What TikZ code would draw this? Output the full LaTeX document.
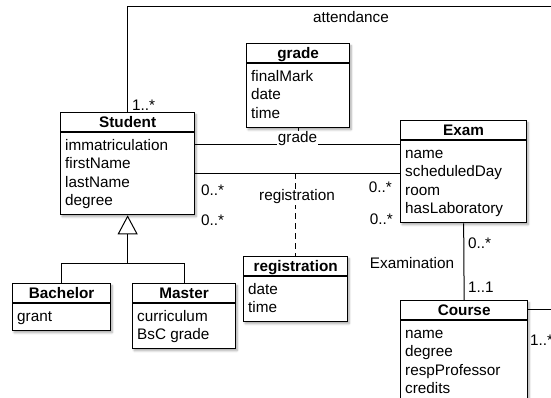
\documentclass[tikz,border=0pt]{standalone}
\usepackage{fontspec}
\setmainfont{Liberation Sans}
\usetikzlibrary{arrows.meta,shadows.blur}

\newcommand\umlfont{\fontsize{15.3}{18}\selectfont}

\tikzset{
  classbox/.style={draw, line width=1.3pt, fill=white,
    blur shadow={shadow xshift=1.5pt, shadow yshift=-2pt, shadow blur steps=5, shadow opacity=35}},
  classline/.style={line width=1.3pt},
  classtitle/.style={font=\umlfont\bfseries, inner sep=0pt},
  attr/.style={font=\umlfont, inner sep=0pt},
  assoc/.style={line width=1pt},
  assocclass/.style={line width=1pt, dash pattern=on 6pt off 4pt},
  lbl/.style={font=\umlfont, inner sep=1pt},
  genarrow/.style={line width=1pt, -{Triangle[open, length=19pt, width=20pt, fill=white]}},
}

% \umlclass{id}{left}{top}{width}{height}{title}{attribute list}
\newcommand\umlclass[7]{%
  \node[classbox, minimum width=#4pt, minimum height=#5pt, inner sep=0pt,
        anchor=north west] (#1) at (#2,#3) {};
  \draw[classline] ([yshift=-20pt]#1.north west) -- ([yshift=-20pt]#1.north east);
  \node[classtitle, anchor=base] (#1-title) at ([yshift=-15.5pt]#1.north) {#6};
  \foreach \t [count=\i] in {#7} {
    \node[attr, anchor=base west] (#1-\i)
      at ([xshift=5pt, yshift={-(38.5+(\i-1)*18.3)*1pt}]#1.north west) {\t};
  }%
}

\begin{document}
\begin{tikzpicture}[x=1pt, y=-1pt]
  \useasboundingbox (0,0) rectangle (551,397);

  % classes
  \umlclass{student}{60}{112}{134}{102}{Student}{immatriculation,firstName,lastName,degree}
  \umlclass{grade}{246}{43}{103}{84}{grade}{finalMark,date,time}
  \umlclass{exam}{400}{120}{126}{102}{Exam}{name,scheduledDay,room,hasLaboratory}
  \umlclass{registration}{243}{256}{104}{65}{registration}{date,time}
  \umlclass{course}{400}{300}{127}{102}{Course}{name,degree,respProfessor,credits}
  \umlclass{bachelor}{12}{283}{98}{47}{Bachelor}{grant}
  \umlclass{master}{132}{283}{103}{65}{Master}{curriculum,BsC grade}

  % attendance: Student up and across the top
  \coordinate (attEnd) at (552,6.3);
  \draw[assoc] (student.north) |- (attEnd);
  \node[lbl] (attLbl) at (351,17) {attendance};
  \node[lbl, anchor=base west] (attMult) at (131,110) {1..*};

  % grade association with its association class
  \coordinate (gradeJoin) at (grade.south |- 0,144);
  \draw[assoc] (student.east |- 0,144) -- (exam.west |- 0,144);
  \draw[assocclass] (grade.south) -- (gradeJoin);
  \node[lbl, fill=white] (gradeLbl) at (297.5,139) {grade};

  % registration association with its association class
  \coordinate (regJoin) at (registration.north |- 0,173);
  \draw[assoc] (student.east |- 0,173) -- (exam.west |- 0,173);
  \draw[assocclass] (regJoin) -- (registration.north);
  \node[lbl, fill=white] (regLbl) at (297,197) {registration};

  % multiplicities of the Student--Exam associations
  \node[lbl, anchor=west] (m1) at (200,190) {0..*};
  \node[lbl, anchor=west] (m2) at (200,220) {0..*};
  \node[lbl, anchor=east] (m3) at (393,187) {0..*};
  \node[lbl, anchor=east] (m4) at (394,219) {0..*};

  % Examination: Exam -- Course
  \draw[assoc] (exam.south) -- (course.north);
  \node[lbl, anchor=west] (m5) at (467,243) {0..*};
  \node[lbl, anchor=west] (m6) at (467,287) {1..1};
  \node[lbl] (examLbl) at (412,263) {Examination};

  % Course leaves to the right
  \coordinate (courseEnd) at (552,309);
  \draw[assoc] (course.east |- courseEnd) -- (courseEnd);
  \node[lbl, anchor=west] (m7) at (529,340) {1..*};

  % generalisation tree
  \coordinate (genJoin) at (student.south |- 0,263);
  \draw[genarrow] (genJoin) -- (student.south);
  \draw[assoc] (bachelor.north) -- (bachelor.north |- genJoin)
               -- (master.north |- genJoin) -- (master.north);
\end{tikzpicture}
\end{document}
